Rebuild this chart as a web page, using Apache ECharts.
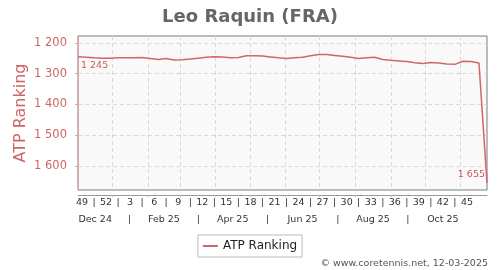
<!DOCTYPE html>
<html><head><meta charset="utf-8">
<script src="https://cdn.jsdelivr.net/npm/echarts@6/dist/echarts.min.js"></script>
<style>html,body{margin:0;padding:0;background:#fff}#c{width:500px;height:270px}</style>
</head><body><div id="c"></div>
<script>
const chartTitle = 'Leo Raquin (FRA)';
const seriesName = 'ATP Ranking';
const startDate = '2024-12-02';
const weekNumbers = [49,50,51,52,1,2,3,4,5,6,7,8,9,10,11,12,13,14,15,16,17,18,19,20,21,22,23,24,25,26,27,28,29,30,31,32,33,34,35,36,37,38,39,40,41,42,43,44,45,46,47,48];
const rankings = [1245,1247,1249,1250,1250,1249,1249,1249,1248,1251,1254,1251,1256,1255,1253,1250,1247,1245,1246,1249,1248,1242,1242,1243,1246,1249,1251,1249,1247,1242,1238,1238,1241,1244,1247,1251,1249,1247,1254,1257,1259,1261,1265,1267,1264,1266,1269,1270,1260,1261,1266,1655];
const weekTickLabels = ['49','52','3','6','9','12','15','18','21','24','27','30','33','36','39','42','45'];
const monthLabels = ['Dec 24','Feb 25','Apr 25','Jun 25','Aug 25','Oct 25'];
const monthLabelStarts = ['2024-12-01','2025-02-01','2025-04-01','2025-06-01','2025-08-01','2025-10-01'];
const monthLabelEnds = ['2025-01-01','2025-03-01','2025-05-01','2025-07-01','2025-09-01','2025-11-01'];
const monthGridDates = ['2025-01-01','2025-02-01','2025-03-01','2025-04-01','2025-05-01','2025-06-01','2025-07-01','2025-08-01','2025-09-01','2025-10-01','2025-11-01'];
const yTicks = [1200,1300,1400,1500,1600];
const yMin = 1178, yMax = 1678;
const credit = '\u00A9 www.coretennis.net, 12-03-2025';

const DAY = 86400000;
const t0 = Date.parse(startDate + 'T00:00:00Z');
const dayOf = s => (Date.parse(s + 'T00:00:00Z') - t0) / DAY;
const xMax = 7 * (rankings.length - 1);
const fmtNum = v => String(v).replace(/\B(?=(\d{3})+(?!\d))/g, ' ');
const key = v => Number(v).toFixed(3);

const weekMap = {};
const weekVals = [];
const weekPos = weekTickLabels.map(l => 7 * weekNumbers.indexOf(Number(l)) + 3.5);
weekPos.forEach((p, i) => { weekVals.push(p); weekMap[key(p)] = weekTickLabels[i]; });
for (let i = 0; i < weekPos.length - 1; i++) { const m = (weekPos[i] + weekPos[i+1]) / 2; weekVals.push(m); weekMap[key(m)] = '|'; }

const monthMap = {};
const monthVals = [];
const monthPos = monthLabels.map((l, i) => {
  const a = Math.max(0, dayOf(monthLabelStarts[i])), b = Math.min(xMax, dayOf(monthLabelEnds[i]));
  return (a + b) / 2;
});
monthPos.forEach((p, i) => { monthVals.push(p); monthMap[key(p)] = monthLabels[i]; });
for (let i = 0; i < monthPos.length - 1; i++) { const m = (monthPos[i] + monthPos[i+1]) / 2; monthVals.push(m); monthMap[key(m)] = '|'; }

const monthGrid = monthGridDates.map(dayOf);

const data = rankings.map((v, i) => {
  const d = { value: [7 * i, v] };
  if (i === 0) d.label = { show: true, position: 'right', distance: 3, offset: [0, 9] };
  if (i === rankings.length - 1) d.label = { show: true, position: 'left', distance: 2, offset: [0, -8] };
  return d;
});

const chart = echarts.init(document.getElementById('c'), null, { renderer: 'canvas' });
chart.setOption({
  animation: false,
  textStyle: { fontFamily: 'DejaVu Sans' },
  title: { text: chartTitle, left: 'center', top: 3, textStyle: { fontSize: 18, fontWeight: 'bold', color: '#666', fontFamily: 'DejaVu Sans' } },
  grid: { left: 78, right: 13, top: 36, bottom: 80, show: true, backgroundColor: '#f9f9f9', borderColor: '#7a7a7a', borderWidth: 1 },
  legend: {
    data: [{ name: seriesName, icon: 'rect', itemStyle: { color: '#cf6668' } }], left: 'center', top: 235, orient: 'horizontal',
    borderColor: '#bbb', borderWidth: 1, borderRadius: 0, padding: [5, 5, 5, 5], backgroundColor: '#fff',
    itemWidth: 15, itemHeight: 2, itemGap: 4,
    textStyle: { fontSize: 12, color: '#222', fontFamily: 'DejaVu Sans' }
  },
  xAxis: [{
    type: 'value', min: 0, max: xMax, position: 'bottom', offset: 5,
    axisLine: { show: true, lineStyle: { color: '#999', width: 1 } },
    axisTick: { show: true, customValues: monthGrid, length: 2, lineStyle: { color: '#bbb' } },
    splitLine: { show: true, lineStyle: { type: [4, 3], color: '#d8d8d8', width: 1 } },
    axisLabel: { customValues: weekVals, formatter: v => weekMap[key(v)] || '', fontSize: 9.5, color: '#333', margin: 3, hideOverlap: false, showMinLabel: true, showMaxLabel: true }
  }, {
    type: 'value', min: 0, max: xMax, position: 'bottom', offset: 5, gridIndex: 0,
    axisLine: { show: false }, axisTick: { show: false }, splitLine: { show: false },
    axisLabel: { customValues: monthVals, formatter: v => monthMap[key(v)] || '', fontSize: 9.5, color: '#333', margin: 20, hideOverlap: false }
  }],
  yAxis: {
    type: 'value', inverse: true, min: yMin, max: yMax, offset: 5,
    name: seriesName, nameLocation: 'middle', nameGap: 44, nameRotate: 90, nameMoveOverlap: false,
    nameTextStyle: { fontSize: 16, color: '#cc6666', fontFamily: 'DejaVu Sans' },
    axisLine: { show: true, lineStyle: { color: '#dba5a5', width: 1 } },
    axisTick: { show: true, customValues: yTicks, length: 3, lineStyle: { color: '#dba5a5' } },
    axisLabel: { customValues: yTicks, formatter: v => fmtNum(v), fontSize: 11.5, color: '#cc6666', margin: 6 },
    splitLine: { show: true, lineStyle: { type: [4, 3], color: '#d8d8d8', width: 1 } }
  },
  series: [{
    name: seriesName, type: 'line', xAxisIndex: 0, data: data,
    symbol: 'circle', symbolSize: 0, showSymbol: true,
    lineStyle: { color: '#cf6668', width: 1.5 }, itemStyle: { color: '#cf6668' },
    label: { show: false, formatter: p => fmtNum(p.value[1]), fontSize: 9.5, color: '#c85a5a' }
  }],
  graphic: [{ type: 'text', right: 12, top: 259, style: { text: credit, fontSize: 9.5, fill: '#555', fontFamily: 'DejaVu Sans' } }]
});
</script></body></html>
